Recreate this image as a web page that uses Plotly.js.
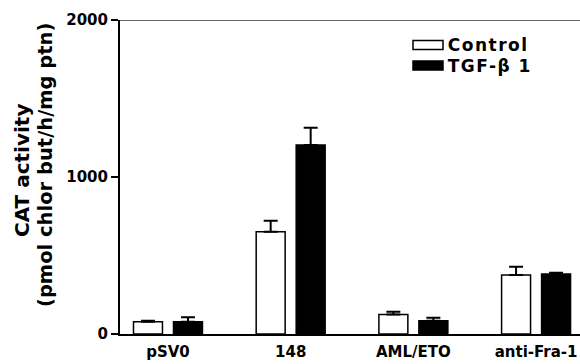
<!DOCTYPE html>
<html>
<head>
<meta charset="utf-8">
<script src="https://cdn.plot.ly/plotly-3.0.1.min.js"></script>
<style>
html,body{margin:0;padding:0;background:#fff;}
#chart{width:580px;height:364px;}
</style>
</head>
<body>
<div id="chart"></div>
<script>
const categories = ["pSV0", "148", "AML/ETO", "anti-Fra-1"];
const controlValues = [78, 652, 125, 376];
const controlErrors = [7, 70, 17, 53];
const tgfValues = [78, 1204, 85, 382];
const tgfErrors = [28, 110, 19, 8];
const yTicks = [0, 1000, 2000];
const seriesNames = ["Control", "TGF-\u03b2 1"];

const FONT = "DejaVu Sans, Arial, sans-serif";
const zeros = categories.map(() => 0);

const traces = [
  {
    type: "bar", name: seriesNames[0], x: categories, y: controlValues,
    marker: {color: "#ffffff", line: {color: "#000", width: 1.5}},
    error_y: {type: "data", symmetric: false, array: controlErrors, arrayminus: zeros,
              color: "#000", thickness: 2, width: 7},
    showlegend: false
  },
  {
    type: "bar", name: seriesNames[1], x: categories, y: tgfValues,
    marker: {color: "#000000", line: {color: "#000", width: 1.5}},
    error_y: {type: "data", symmetric: false, array: tgfErrors, arrayminus: zeros,
              color: "#000", thickness: 2, width: 7},
    showlegend: false
  }
];

// plot area pixel helpers (margins l=120, t=20, plot 460x314)
const PW = 460, PH = 314, ML = 120, MT = 20;
const px = x => (x - ML) / PW;
const py = y => (MT + PH - y) / PH;

const layout = {
  width: 580, height: 364,
  margin: {l: ML, r: 0, t: MT, b: 30},
  paper_bgcolor: "#fff", plot_bgcolor: "#fff",
  barmode: "group", bargap: 0.348, bargroupgap: 0.276,
  font: {family: FONT, color: "#000", weight: "bold"},
  xaxis: {
    type: "category", range: [-0.391, 3.358],
    showline: true, linecolor: "#000", linewidth: 2,
    ticks: "", showgrid: false, zeroline: false, ticklabelstandoff: 3,
    tickfont: {family: FONT, size: 15, weight: "bold", color: "#000"}
  },
  yaxis: {
    range: [0, 2000], tickvals: yTicks, ticktext: yTicks.map(String),
    showline: true, linecolor: "#000", linewidth: 2,
    ticks: "outside", ticklen: 7, tickwidth: 2, tickcolor: "#000",
    showgrid: false, zeroline: false,
    tickfont: {family: FONT, size: 15, weight: "bold", color: "#000"}
  },
  shapes: [
    {type: "line", xref: "paper", yref: "y", x0: 0, x1: 1, y0: 2000, y1: 2000,
     line: {color: "#333", width: 1.5}},
    {type: "rect", xref: "paper", yref: "paper", x0: px(413), x1: px(443), y0: py(49.5), y1: py(40.5),
     fillcolor: "#fff", line: {color: "#000", width: 1.5}},
    {type: "rect", xref: "paper", yref: "paper", x0: px(413), x1: px(443), y0: py(70), y1: py(61),
     fillcolor: "#000", line: {color: "#000", width: 1.5}}
  ],
  annotations: [
    {text: seriesNames[0], xref: "paper", yref: "paper", x: px(452), y: py(45),
     xanchor: "left", yanchor: "middle", showarrow: false, borderpad: 0,
     font: {family: FONT, size: 17, weight: "bold", color: "#000"}},
    {text: seriesNames[1], xref: "paper", yref: "paper", x: px(452), y: py(65.5),
     xanchor: "left", yanchor: "middle", showarrow: false, borderpad: 0,
     font: {family: FONT, size: 17, weight: "bold", color: "#000"}},
    {text: "CAT activity", xref: "paper", yref: "paper", x: 0, xshift: 22 - ML, y: py(171),
     xanchor: "center", yanchor: "middle", textangle: -90, showarrow: false,
     font: {family: FONT, size: 20, weight: "bold", color: "#000"}},
    {text: "(pmol chlor but/h/mg ptn)", xref: "paper", yref: "paper", x: 0, xshift: 45 - ML, y: py(165),
     xanchor: "center", yanchor: "middle", textangle: -90, showarrow: false,
     font: {family: FONT, size: 19.5, weight: "bold", color: "#000"}}
  ]
};

Plotly.newPlot("chart", traces, layout, {displayModeBar: false, staticPlot: true}).then(gd => {
  const anns = gd.querySelectorAll(".annotation-text");
  [0, 1].forEach(i => { if (anns[i]) anns[i].style.letterSpacing = "1.5px"; });
});
</script>
</body>
</html>
